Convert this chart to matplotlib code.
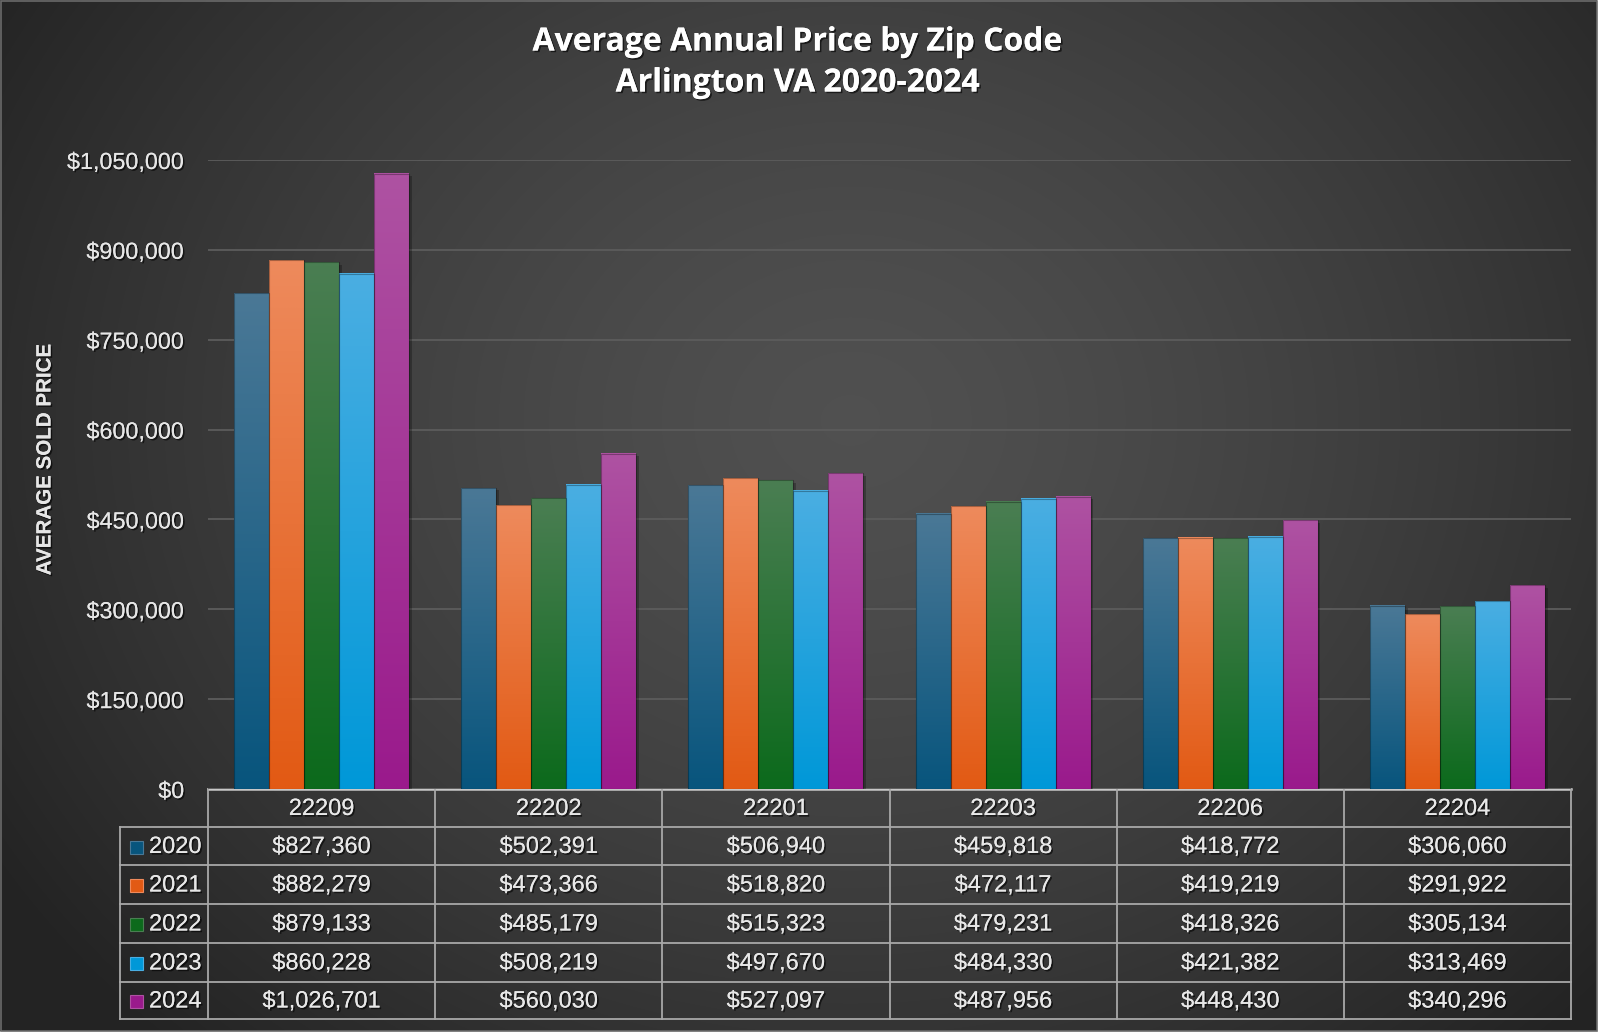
import numpy as np
import matplotlib
matplotlib.use("Agg")
import matplotlib.pyplot as plt
import matplotlib.patheffects as pe
from matplotlib.colors import to_rgb
from matplotlib.patches import Rectangle

# ---------------- data ----------------
zip_codes = ["22209", "22202", "22201", "22203", "22206", "22204"]
years = ["2020", "2021", "2022", "2023", "2024"]
price_2020 = [827360, 502391, 506940, 459818, 418772, 306060]
price_2021 = [882279, 473366, 518820, 472117, 419219, 291922]
price_2022 = [879133, 485179, 515323, 479231, 418326, 305134]
price_2023 = [860228, 508219, 497670, 484330, 421382, 313469]
price_2024 = [1026701, 560030, 527097, 487956, 448430, 340296]
series = [price_2020, price_2021, price_2022, price_2023, price_2024]
y_ticks = [0, 150000, 300000, 450000, 600000, 750000, 900000, 1050000]

top_colors = ["#4a7896", "#ee8a5c", "#4a7e52", "#4aaee2", "#ae52a2"]
bot_colors = ["#08557d", "#e25a14", "#0c6a1c", "#0098d8", "#9a1a8c"]

W, H = 1600, 1035
fig = plt.figure(figsize=(W / 100, H / 100), dpi=100)
fig.patch.set_facecolor("white")

# ---------------- background (radial gradient) ----------------
bg = fig.add_axes([0, 0, 1, 1])
bg.set_xlim(0, W)
bg.set_ylim(H, 0)
bg.axis("off")
yy, xx = np.mgrid[0:1031, 0:1597]
d = np.sqrt(((xx - 850) / 1000.0) ** 2 + ((yy - 420) / 850.0) ** 2)
d = np.clip(d, 0, 1) ** 1.4
c_in = np.array([0.315, 0.315, 0.315])
c_out = np.array([0.14, 0.14, 0.14])
img = c_in[None, None, :] * (1 - d[..., None]) + c_out[None, None, :] * d[..., None]
bg.imshow(img, extent=(0, 1597, 1031, 0), aspect="auto", zorder=0)
bg.add_patch(Rectangle((0.5, 0.5), 1596, 1030, fill=False, ec="#6a6a6a", lw=1.2, zorder=1))

sh = [pe.withSimplePatchShadow(offset=(1.2, -1.2), shadow_rgbFace="black", alpha=0.6), pe.Normal()]

# ---------------- title ----------------
fig.text(798 / W, 1 - 42 / H, "Average Annual Price by Zip Code", ha="center", va="center",
         fontsize=23, fontweight="bold", family="Open Sans", color="white", path_effects=sh)
fig.text(798 / W, 1 - 83 / H, "Arlington VA 2020-2024", ha="center", va="center",
         fontsize=23, fontweight="bold", family="Open Sans", color="white", path_effects=sh)

# ---------------- main axes ----------------
L, R, T, B = 208, 1571, 160, 789
ax = fig.add_axes([L / W, 1 - B / H, (R - L) / W, (B - T) / H])
ax.patch.set_alpha(0)
for s in ax.spines.values():
    s.set_visible(False)
ax.set_yticks(y_ticks)
ax.set_yticklabels(["${:,}".format(v) for v in y_ticks], family="Liberation Sans",
                   fontsize=16.8, color="#e6e6e6")
for t in ax.get_yticklabels():
    t.set_path_effects(sh)
ax.tick_params(axis="y", length=0, pad=17)
ax.set_xticks([])
ax.yaxis.grid(True, color="#5c5c5c", lw=1.3)
ax.set_axisbelow(True)

fig.text(45 / W, 1 - 460 / H, "AVERAGE SOLD PRICE", rotation=90, ha="center", va="center",
         family="Liberation Sans", fontweight="bold", fontsize=14.8, color="#e6e6e6",
         path_effects=sh)

x = np.arange(len(zip_codes))
bw = 0.154
offsets = (np.arange(len(years)) - 2) * bw
for i, vals in enumerate(series):
    bars = ax.bar(x + offsets[i], vals, width=bw, color="none", ec="none", zorder=2)
    t = np.array(to_rgb(top_colors[i]))
    b = np.array(to_rgb(bot_colors[i]))
    for bar in bars:
        x0, y0 = bar.get_x(), bar.get_y()
        w, h = bar.get_width(), bar.get_height()
        # shadow
        ax.add_patch(Rectangle((x0 + 0.012, y0), w, h - 4000, fc="black", alpha=0.25,
                               ec="none", zorder=1.5))
        g = np.linspace(0, 1, 64)[:, None]
        grad = t[None, None, :] * (1 - g[..., None]) + b[None, None, :] * g[..., None]
        ax.imshow(grad, extent=(x0, x0 + w, y0, y0 + h), origin="upper", aspect="auto",
                  zorder=2.5, interpolation="bilinear")
        ax.add_patch(Rectangle((x0, y0), w, h, fill=False, ec=(0, 0, 0, 0.3), lw=0.8, zorder=2.6))
ax.set_xlim(-0.5, len(zip_codes) - 0.5)
ax.set_ylim(0, 1050000)

# ---------------- data table ----------------
LEGL = 120
row_edges = [789, 827, 865, 904, 943, 982, 1019]
col_w = (R - L) / len(zip_codes)
line_c = "#a8a8a8"

bg.plot([L, R], [row_edges[0], row_edges[0]], color="#c8c8c8", lw=1.8, zorder=3)
for yv in row_edges[1:]:
    bg.plot([LEGL, R], [yv, yv], color=line_c, lw=1.3, zorder=3)
for j in range(len(zip_codes) + 1):
    xv = L + j * col_w
    bg.plot([xv, xv], [row_edges[0], row_edges[-1]], color=line_c, lw=1.3, zorder=3)
bg.plot([LEGL, LEGL], [row_edges[1], row_edges[-1]], color=line_c, lw=1.3, zorder=3)

txt_kw = dict(ha="center", va="center", family="Liberation Sans", fontsize=17,
              color="#e8e8e8", zorder=4, path_effects=sh)
for j, z in enumerate(zip_codes):
    bg.text(L + (j + 0.5) * col_w, (row_edges[0] + row_edges[1]) / 2 + 1, z, **txt_kw)
for i, vals in enumerate(series):
    yc = (row_edges[i + 1] + row_edges[i + 2]) / 2 + 1
    for j, v in enumerate(vals):
        bg.text(L + (j + 0.5) * col_w, yc, "${:,}".format(v), **txt_kw)
    bg.add_patch(Rectangle((130, yc - 6.5), 13, 13, fc=bot_colors[i], ec=top_colors[i],
                           lw=0.8, zorder=4))
    bg.text(149, yc, years[i], ha="left", va="center", family="Liberation Sans",
            fontsize=17, color="#e8e8e8", zorder=4, path_effects=sh)

fig.savefig("out.png", dpi=100, facecolor=fig.get_facecolor())
